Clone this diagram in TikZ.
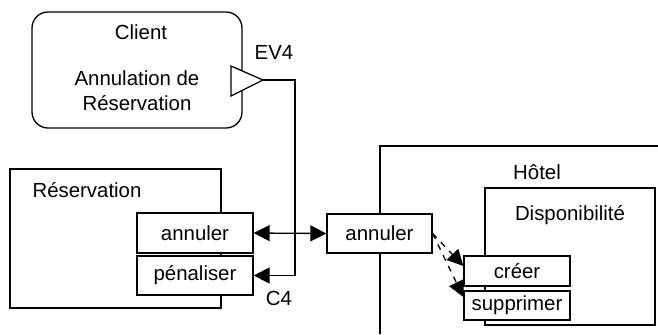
\documentclass[tikz,border=0pt]{standalone}
\usepackage{fontspec}
\setmainfont{Liberation Sans}
\usetikzlibrary{arrows.meta}

\begin{document}
\begin{tikzpicture}[x=0.5pt, y=-0.5pt, line width=0.65pt,
    font=\fontsize{10.2}{12.4}\selectfont,
    box/.style={draw, fill=white, inner sep=0pt},
    tip/.style={-{Triangle[length=8pt, width=8pt]}}]
    \useasboundingbox (0,0) rectangle (658,334);
    \node[box, rounded corners=8pt, minimum width=105pt, minimum height=58pt] (cl) at (137,70) {};
    \node (cl1) at (141,32) {Client};
    \node[align=center] (cl2) at (137,91) {Annulation de\\Réservation};
    \draw[fill=white] (231,66) -- (263,80) coordinate (ev) -- (231,96) -- cycle;
    \node (ev4) at (274,52) {EV4};
    \node[box, minimum width=105.5pt, minimum height=69.5pt] (res) at (115.5,238.5) {};
    \node (res1) at (87,190) {Réservation};
    \node[box, minimum width=58pt, minimum height=20pt] (an1) at (195,233) {annuler};
    \node[box, minimum width=58pt, minimum height=19.5pt] (pen) at (195,275.5) {pénaliser};
    \node (c4) at (279,298) {C4};
    \draw (380,334) |- (658,146);
    \node (hot) at (537,172) {Hôtel};
    \node[box, minimum width=85pt, minimum height=68.5pt] (dis) at (570,256.5) {};
    \node (dis1) at (570,215) {Disponibilité};
    \node[box, minimum width=52.5pt, minimum height=19.5pt] (an2) at (379.5,233.5) {annuler};
    \node[box, minimum width=53pt, minimum height=15pt] (cr) at (517,271) {créer};
    \node[box, minimum width=53pt, minimum height=14.5pt] (sup) at (517,305.5) {supprimer};
    \draw[tip] (ev) -- (295,80) |- (pen.east);
    \draw[{Triangle[length=8pt, width=8pt]}-{Triangle[length=8pt, width=8pt]}] (an1.east) -- (an2.west);
    \draw[tip, dashed] (an2.east) -- ([yshift=2.5pt]cr.west);
    \draw[tip, dashed] (an2.east) -- ([yshift=4.25pt]sup.west);
\end{tikzpicture}
\end{document}
